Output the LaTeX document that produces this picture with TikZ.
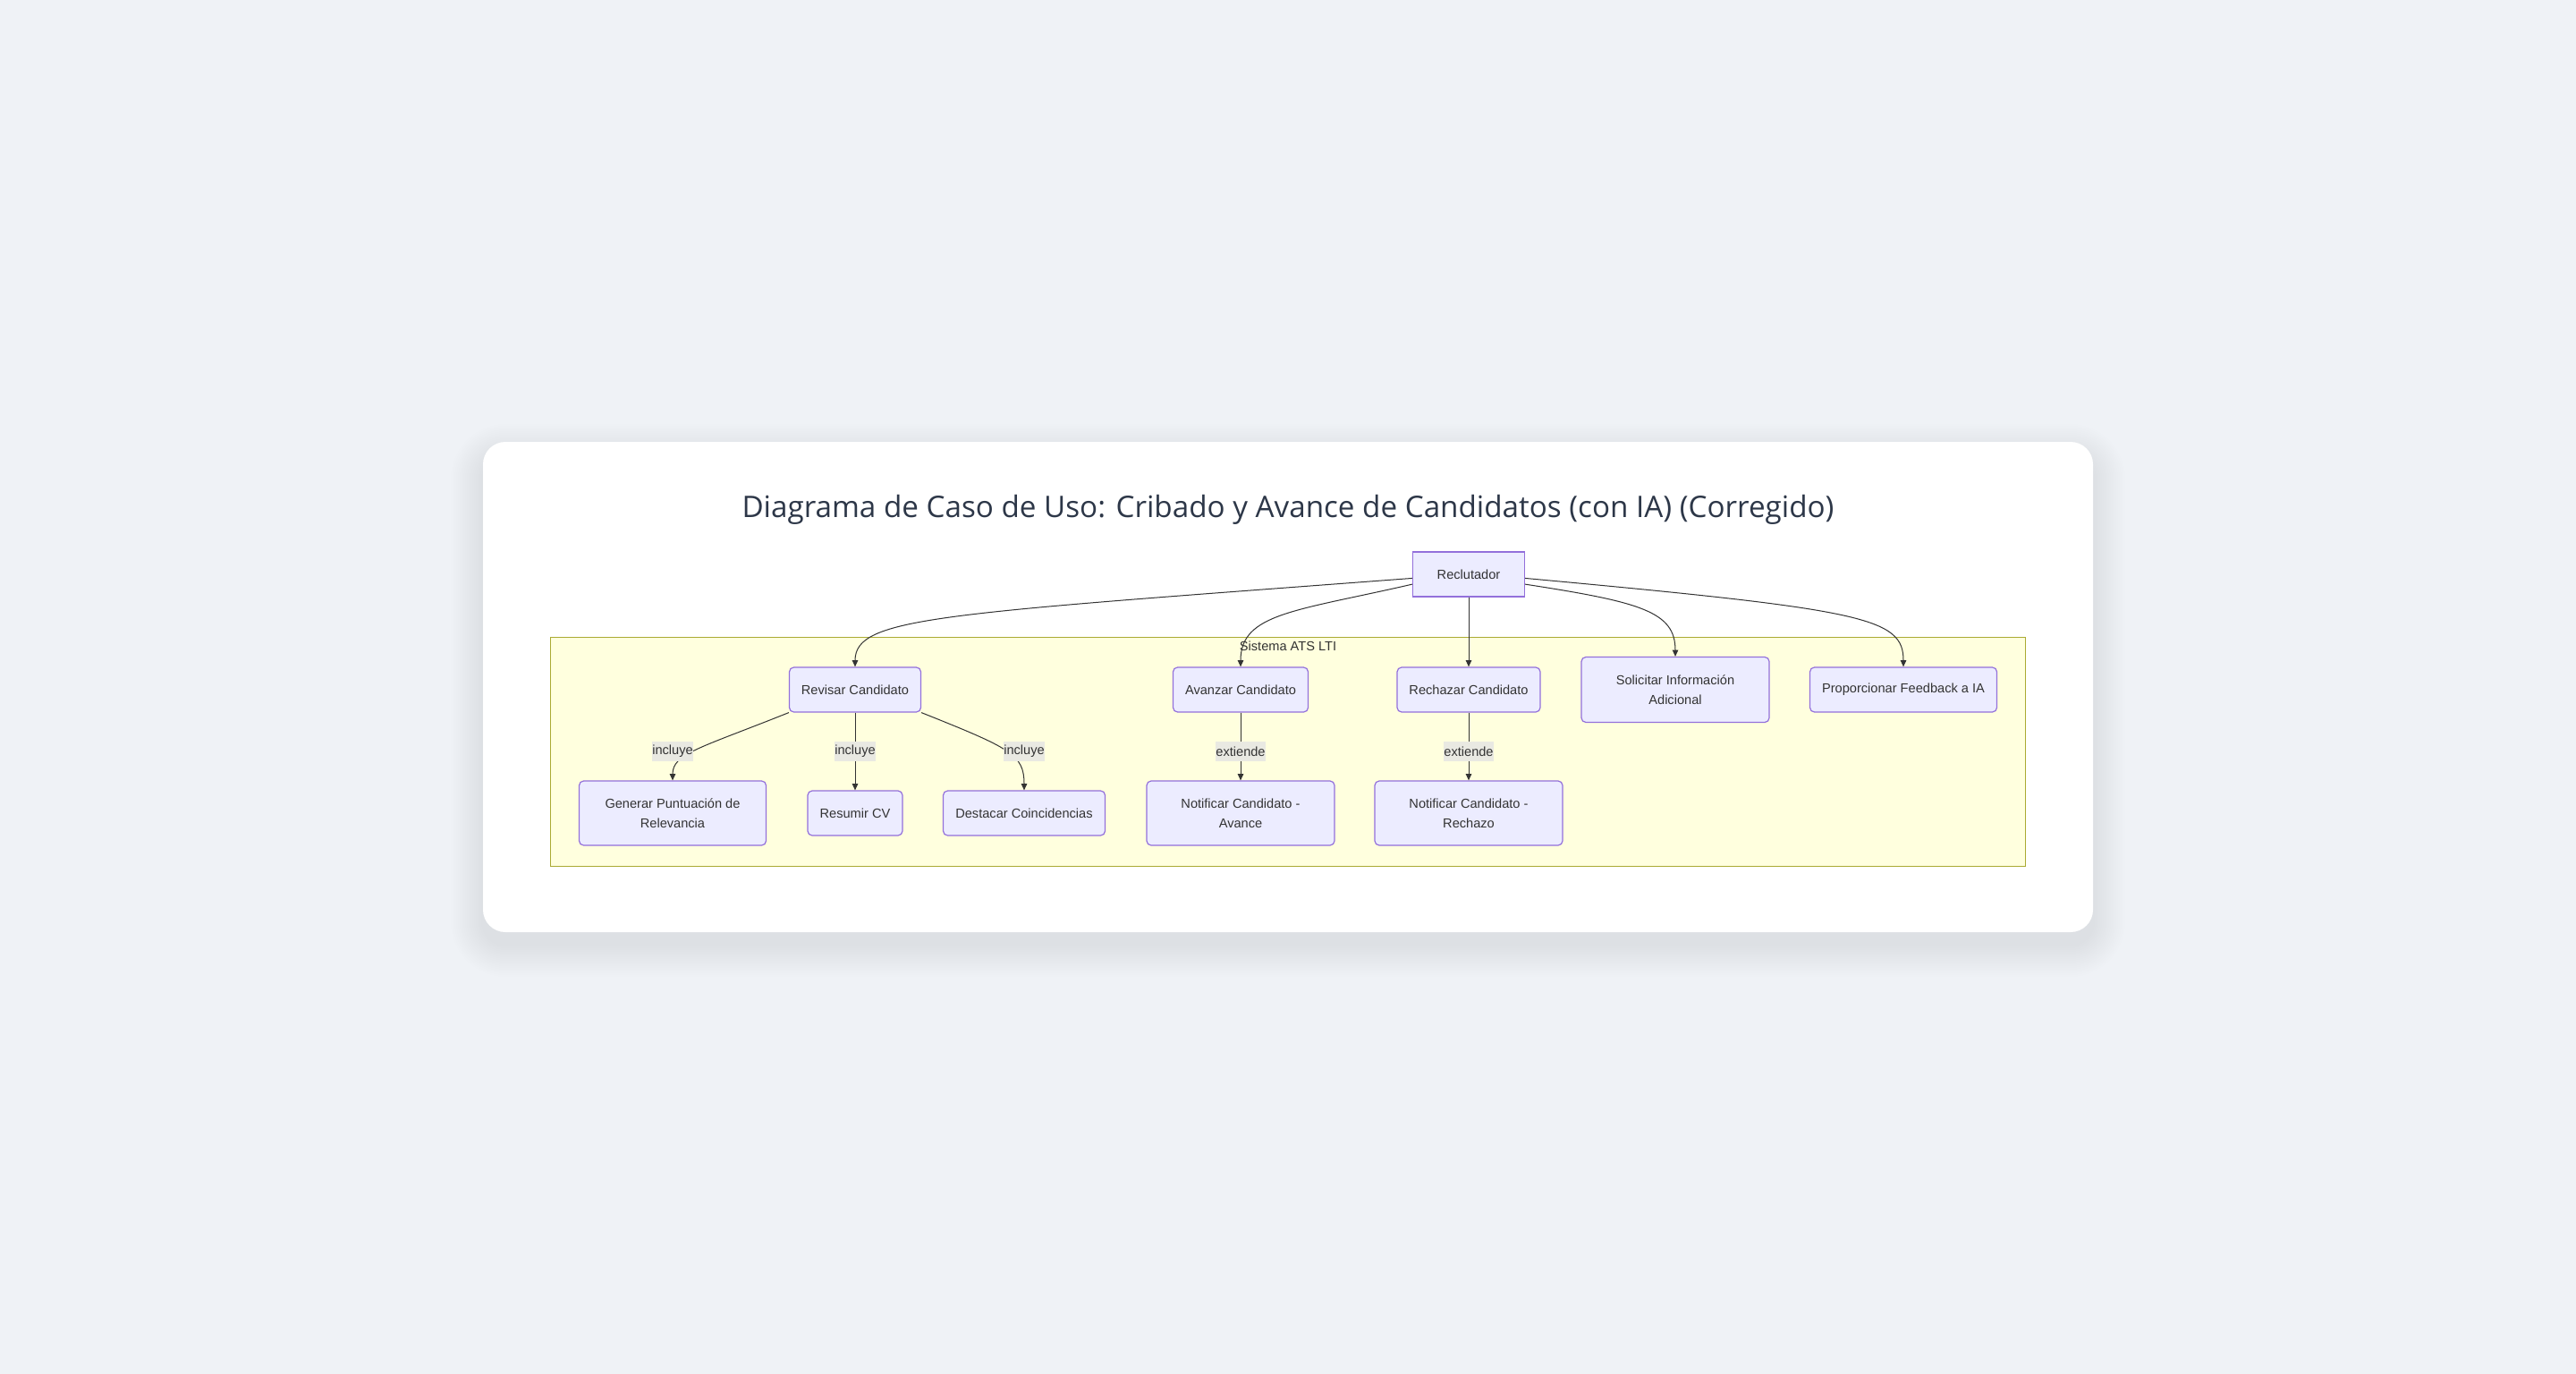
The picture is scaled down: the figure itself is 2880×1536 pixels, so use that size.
\documentclass[tikz,border=0pt]{standalone}
\usepackage{fontspec}
\setmainfont{Liberation Sans}
\newfontfamily\titlefont{Open Sans}
\usetikzlibrary{arrows.meta}
\definecolor{bgc}{RGB}{239,242,246}
\definecolor{titlec}{RGB}{45,55,72}
\definecolor{nodefill}{RGB}{236,236,255}
\definecolor{nodedraw}{RGB}{147,112,219}
\definecolor{sgfill}{RGB}{255,255,222}
\definecolor{sgdraw}{RGB}{170,170,51}
\definecolor{txt}{RGB}{51,51,51}
\definecolor{lblbg}{RGB}{233,233,226}
\definecolor{edgec}{RGB}{51,51,51}
\begin{document}
\begin{tikzpicture}[x=0.5pt,y=-0.5pt,
  uc/.style={draw=nodedraw, fill=nodefill, line width=0.6pt, rounded corners=2.5pt,
    text=txt, align=center, inner sep=0pt, minimum height=25pt,
    font=\fontsize{7.3}{10.8}\selectfont},
  actor/.style={uc, rounded corners=0pt},
  edge/.style={draw=edgec, line width=0.5pt, -{Triangle[length=3.6pt,width=3.2pt]}},
  lbl/.style={fill=lblbg, text=txt, inner xsep=0pt, inner ysep=0pt, minimum height=11pt,
    font=\fontsize{7.3}{10.8}\selectfont}
]
\useasboundingbox (0,0) rectangle (2880,1536);
\fill[bgc] (0,0) rectangle (2880,1536);
% card shadow
\foreach \i in {1,...,18}{
  \pgfmathsetmacro\rr{12.5+\i}
  \fill[black, opacity=0.0032, rounded corners=\rr pt] (540-2*\i, 510-2*\i) rectangle (2340+2*\i, 1056+2*\i);
}
\fill[white, rounded corners=12.5pt] (540,494) rectangle (2340,1042);
% title
\node[font=\titlefont\fontsize{16.6}{20}\selectfont, text=titlec] (title) at (1440,570)
  {Diagrama de Caso de Uso: Cribado y Avance de Candidatos (con IA) (Corregido)};
% subgraph
\draw[sgdraw, fill=sgfill, line width=0.5pt] (615,712) rectangle (2264,968);
\node[text=txt, font=\fontsize{7.3}{10.8}\selectfont] (sgl) at (1440,722) {Sistema ATS LTI};
% nodes
\node[actor, minimum width=62.5pt] (rec) at (1642,642) {Reclutador};
\node[uc, minimum width=73.5pt] (rev) at (956,771) {Revisar Candidato};
\node[uc, minimum width=75.5pt] (ava) at (1387,771) {Avanzar Candidato};
\node[uc, minimum width=80pt] (rej) at (1642,771) {Rechazar Candidato};
\node[uc, minimum width=105pt, minimum height=36.5pt] (sol) at (1873,771) {Solicitar Información\\Adicional};
\node[uc, minimum width=104.5pt] (prop) at (2128,771) {Proporcionar Feedback a IA};
\node[uc, minimum width=104.5pt, minimum height=36pt] (gen) at (752,909) {Generar Puntuación de\\Relevancia};
\node[uc, minimum width=53pt] (res) at (956,909) {Resumir CV};
\node[uc, minimum width=90.5pt] (des) at (1145,909) {Destacar Coincidencias};
\node[uc, minimum width=105pt, minimum height=36pt] (na) at (1387,909) {Notificar Candidato -\\Avance};
\node[uc, minimum width=105pt, minimum height=36pt] (nr) at (1642,909) {Notificar Candidato -\\Rechazo};
% edges from actor
\draw[edge] (rec.184) .. controls +(-529,40) and +(0,-56) .. (rev.north);
\draw[edge] (rec.190) .. controls +(-130,30) and +(0,-60) .. (ava.north);
\draw[edge] (rec.south) -- (rej.north);
\draw[edge] (rec.350) .. controls +(130,20) and +(0,-50) .. (sol.north);
\draw[edge] (rec.356) .. controls +(380,35) and +(0,-55) .. (prop.north);
% include / extend edges
\draw[edge] (rev.south west) .. controls +(-100,40) and +(0,-30) .. (gen.north);
\draw[edge] (rev.south) -- (res.north);
\draw[edge] (rev.south east) .. controls +(100,40) and +(0,-40) .. (des.north);
\draw[edge] (ava.south) -- (na.north);
\draw[edge] (rej.south) -- (nr.north);
% labels
\node[lbl] (l1) at (752,840) {incluye};
\node[lbl] (l2) at (956,840) {incluye};
\node[lbl] (l3) at (1145,840) {incluye};
\node[lbl] (l4) at (1387,840) {extiende};
\node[lbl] (l5) at (1642,840) {extiende};
\end{tikzpicture}
\end{document}
